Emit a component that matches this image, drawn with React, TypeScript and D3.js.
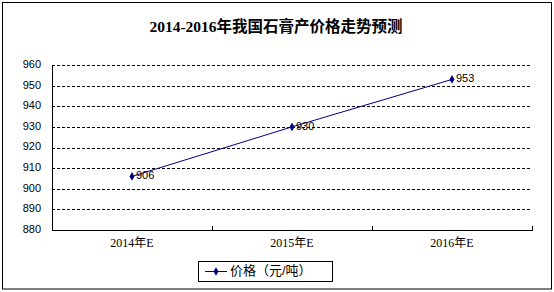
import React from "react";
import * as d3 from "d3";

const categories = ["2014年E", "2015年E", "2016年E"];
const values = [906, 930, 953];
const yTicks = [880, 890, 900, 910, 920, 930, 940, 950, 960];
const title = "2014-2016年我国石膏产价格走势预测";
const seriesName = "价格（元/吨）";

const W = 554;
const H = 292;
const plot = { left: 52, right: 532, top: 65, bottom: 230 };

export default function App() {
  const x = d3
    .scaleBand<string>()
    .domain(categories)
    .range([plot.left, plot.right]);
  const y = d3.scaleLinear().domain([880, 960]).range([plot.bottom, plot.top]);
  const cx = (c: string) => (x(c) as number) + x.bandwidth() / 2;
  const line = d3
    .line<number>()
    .x((_, i) => cx(categories[i]))
    .y((d) => y(d));
  const diamond = d3.symbol().type(d3.symbolDiamond).size(22)();
  const sans = "'Liberation Sans', Arial, 'Noto Sans CJK SC', sans-serif";
  const serif = "'Liberation Serif', 'Noto Sans CJK SC', serif";
  const boundaries = categories.map((c) => x(c) as number).slice(1).concat([plot.right]);

  return (
    <svg
      width={W}
      height={H}
      style={{ position: "absolute", left: 0, top: 0, background: "#fff" }}
    >
      <rect x={2.5} y={2.5} width={549} height={286.5} fill="#fff" stroke="#000" strokeWidth={1} />
      <text
        x={276}
        y={32}
        textAnchor="middle"
        fontFamily={serif}
        fontWeight="bold"
        fontSize={15.5}
        fill="#000"
      >
        {title}
      </text>
      {yTicks.slice(1).map((t) => (
        <line
          key={"g" + t}
          x1={plot.left}
          x2={plot.right}
          y1={Math.round(y(t)) + 0.5}
          y2={Math.round(y(t)) + 0.5}
          stroke="#000"
          strokeWidth={1}
          strokeDasharray="3,2"
        />
      ))}
      {yTicks.map((t) => (
        <text
          key={"t" + t}
          x={41}
          y={y(t)}
          textAnchor="end"
          dominantBaseline="middle"
          fontFamily={sans}
          fontSize={11}
          fill="#000"
        >
          {t}
        </text>
      ))}
      <line x1={plot.left + 0.5} x2={plot.left + 0.5} y1={plot.top} y2={plot.bottom} stroke="#000" />
      <line x1={plot.left} x2={plot.right + 1} y1={plot.bottom + 0.5} y2={plot.bottom + 0.5} stroke="#000" />
      {boundaries.map((b, i) => (
        <line
          key={"tk" + i}
          x1={Math.round(b) + 0.5}
          x2={Math.round(b) + 0.5}
          y1={plot.bottom - 4}
          y2={plot.bottom}
          stroke="#000"
        />
      ))}
      {categories.map((c) => (
        <text
          key={"c" + c}
          x={cx(c)}
          y={244}
          textAnchor="middle"
          dominantBaseline="middle"
          fontFamily={serif}
          fontSize={12}
          fill="#000"
        >
          {c}
        </text>
      ))}
      <path d={line(values) || ""} fill="none" stroke="#000080" strokeWidth={1} />
      {values.map((v, i) => (
        <g key={"p" + i}>
          <path
            d={diamond || ""}
            transform={`translate(${cx(categories[i])},${y(v)})`}
            fill="#000080"
          />
          <text
            x={cx(categories[i]) + 4}
            y={y(v)}
            dominantBaseline="middle"
            fontFamily={sans}
            fontSize={11}
            fill="#000"
          >
            {v}
          </text>
        </g>
      ))}
      <rect x={198.5} y={261.5} width={134} height={20} fill="#fff" stroke="#000" />
      <line x1={205} x2={227} y1={271.5} y2={271.5} stroke="#000080" />
      <path d={diamond || ""} transform="translate(216,271.5)" fill="#000080" />
      <text
        x={230}
        y={272}
        dominantBaseline="middle"
        fontFamily={sans}
        fontSize={13}
        fill="#000"
      >
        {seriesName}
      </text>
    </svg>
  );
}
